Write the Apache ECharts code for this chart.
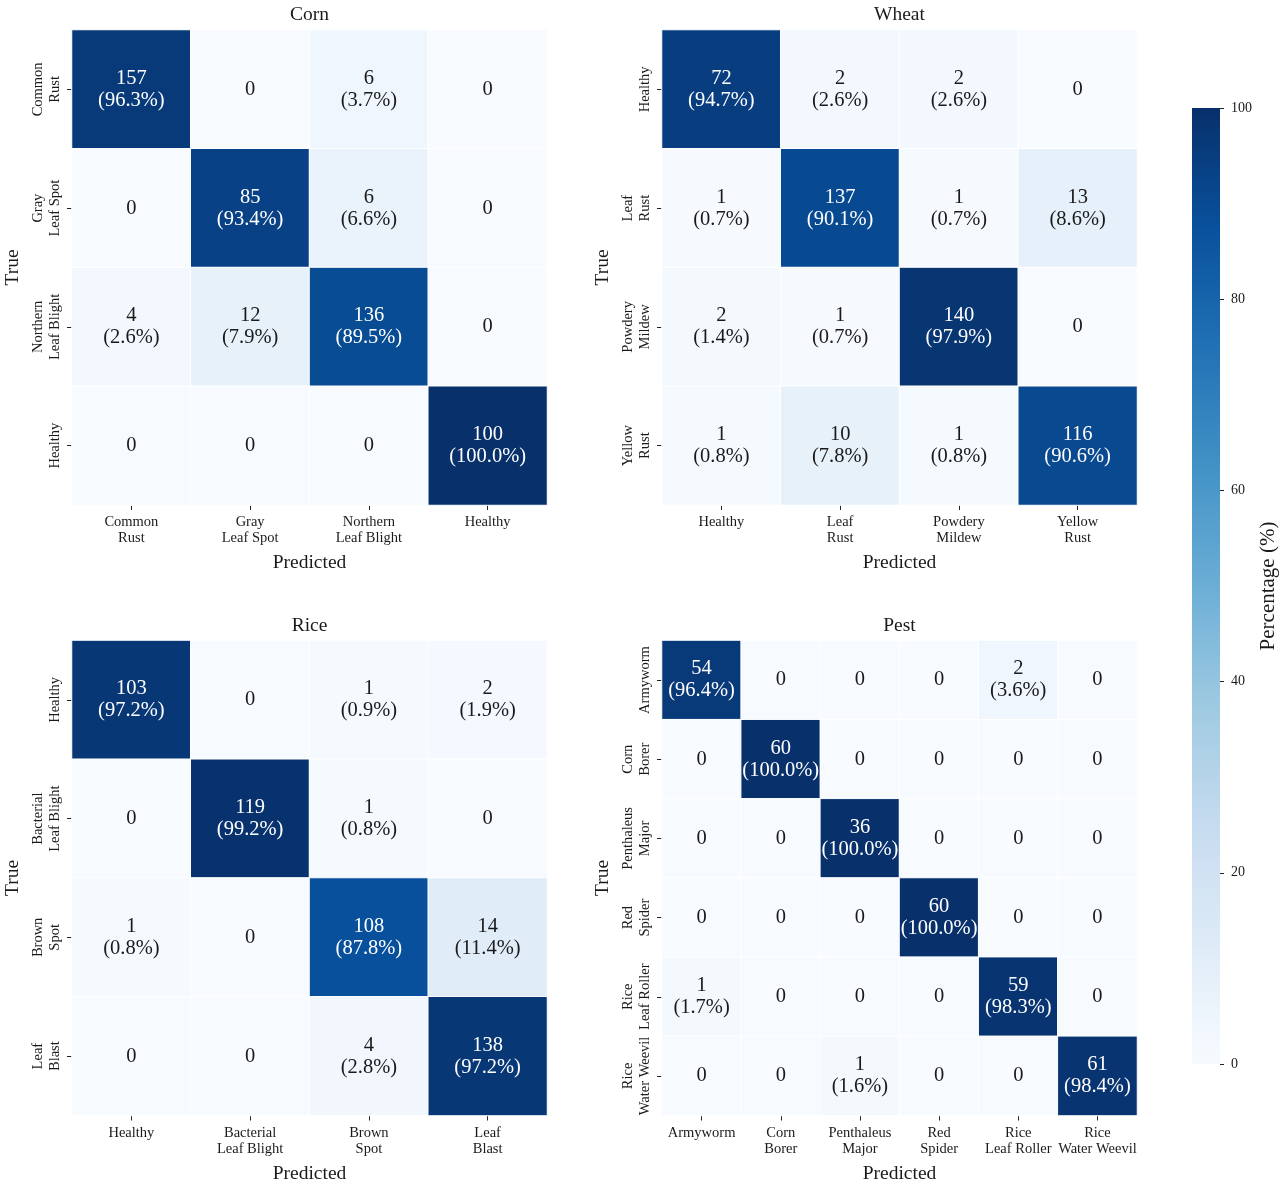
<!DOCTYPE html>
<html><head><meta charset="utf-8">
<script src="https://cdn.jsdelivr.net/npm/echarts@6/dist/echarts.min.js"></script>
<style>html,body{margin:0;padding:0;background:#fff}#c{width:1283px;height:1186px}</style>
</head><body><div id="c"></div>
<script>
// ---- data ----
const cornLabels = ['Common\nRust', 'Gray\nLeaf Spot', 'Northern\nLeaf Blight', 'Healthy'];
const cornCounts = [[157, 0, 6, 0], [0, 85, 6, 0], [4, 12, 136, 0], [0, 0, 0, 100]];
const wheatLabels = ['Healthy', 'Leaf\nRust', 'Powdery\nMildew', 'Yellow\nRust'];
const wheatCounts = [[72, 2, 2, 0], [1, 137, 1, 13], [2, 1, 140, 0], [1, 10, 1, 116]];
const riceLabels = ['Healthy', 'Bacterial\nLeaf Blight', 'Brown\nSpot', 'Leaf\nBlast'];
const riceCounts = [[103, 0, 1, 2], [0, 119, 1, 0], [1, 0, 108, 14], [0, 0, 4, 138]];
const pestLabels = ['Armyworm', 'Corn\nBorer', 'Penthaleus\nMajor', 'Red\nSpider', 'Rice\nLeaf Roller', 'Rice\nWater Weevil'];
const pestCounts = [[54, 0, 0, 0, 2, 0], [0, 60, 0, 0, 0, 0], [0, 0, 36, 0, 0, 0], [0, 0, 0, 60, 0, 0], [1, 0, 0, 0, 59, 0], [0, 0, 1, 0, 0, 61]];
const panelTitles = ['Corn', 'Wheat', 'Rice', 'Pest'];
const colorbarTicks = [0, 20, 40, 60, 80, 100];
const bluesStops = ['#f7fbff', '#deebf7', '#c6dbef', '#9ecae1', '#6baed6', '#4292c6', '#2171b5', '#08519c', '#08306b'];

// ---- layout ----
const FONT = "'Liberation Serif', 'Times New Roman', serif";
const TXT = '#1a1a1a';
const panels = [
  { labels: cornLabels, counts: cornCounts, left: 72, top: 30 },
  { labels: wheatLabels, counts: wheatCounts, left: 662, top: 30 },
  { labels: riceLabels, counts: riceCounts, left: 72, top: 640.5 },
  { labels: pestLabels, counts: pestCounts, left: 662, top: 640.5 }
];
const SIZE = 475;

const grids = [], xAxes = [], yAxes = [], series = [], titles = [];
panels.forEach((p, i) => {
  grids.push({ left: p.left, top: p.top, width: SIZE, height: SIZE });
  titles.push({
    text: panelTitles[i], left: p.left + SIZE / 2, top: p.top - 25, textAlign: 'center', padding: 0,
    textStyle: { fontFamily: FONT, fontSize: 19.5, fontWeight: 'normal', color: TXT }
  });
  xAxes.push({
    gridIndex: i, type: 'category', data: p.labels, position: 'bottom',
    axisLine: { show: false },
    axisTick: { show: true, alignWithLabel: true, length: 5, lineStyle: { color: '#222', width: 1 } },
    axisLabel: { interval: 0, fontFamily: FONT, fontSize: 14.5, lineHeight: 16, margin: 9.5, color: TXT },
    splitLine: { show: false },
    name: 'Predicted', nameLocation: 'middle', nameGap: 48,
    nameTextStyle: { fontFamily: FONT, fontSize: 19.5, color: TXT }
  });
  yAxes.push({
    gridIndex: i, type: 'category', data: p.labels, inverse: true,
    axisLine: { show: false },
    axisTick: { show: true, alignWithLabel: true, length: 5, lineStyle: { color: '#222', width: 1 } },
    axisLabel: { interval: 0, rotate: 90, fontFamily: FONT, fontSize: 14.5, lineHeight: 17, margin: 8, color: TXT },
    splitLine: { show: false },
    name: 'True', nameLocation: 'middle', nameGap: 49, nameRotate: 90,
    nameTextStyle: { fontFamily: FONT, fontSize: 19.5, color: TXT }
  });
  const data = [];
  p.counts.forEach((row, r) => {
    const total = row.reduce((a, b) => a + b, 0);
    row.forEach((c, col) => {
      const pct = total ? c / total * 100 : 0;
      data.push({ value: [col, r, pct, c], label: { color: pct >= 50 ? '#ffffff' : TXT } });
    });
  });
  series.push({
    type: 'heatmap', xAxisIndex: i, yAxisIndex: i, data: data,
    itemStyle: { borderColor: '#ffffff', borderWidth: 1 },
    emphasis: { disabled: true },
    label: {
      show: true, fontFamily: FONT, fontSize: 20.5, lineHeight: 22,
      formatter: (d) => d.value[3] === 0 ? '0' : d.value[3] + '\n(' + d.value[2].toFixed(1) + '%)'
    }
  });
});

// colorbar
grids.push({ left: 1192, top: 108, width: 28, height: 956 });
xAxes.push({ gridIndex: 4, type: 'category', data: [''], show: false });
yAxes.push({
  gridIndex: 4, type: 'value', position: 'right',
  min: colorbarTicks[0], max: colorbarTicks[colorbarTicks.length - 1], interval: colorbarTicks[1] - colorbarTicks[0],
  axisLine: { show: false },
  axisTick: { show: true, length: 4, lineStyle: { color: '#222', width: 1 } },
  axisLabel: { fontFamily: FONT, fontSize: 14, margin: 11, color: TXT },
  splitLine: { show: false },
  name: 'Percentage (%)', nameLocation: 'middle', nameGap: 38, nameRotate: 90,
  nameTextStyle: { fontFamily: FONT, fontSize: 21, color: TXT }
});
series.push({
  type: 'bar', xAxisIndex: 4, yAxisIndex: 4, data: [colorbarTicks[colorbarTicks.length - 1]],
  barWidth: '100%', silent: true,
  itemStyle: {
    color: {
      type: 'linear', x: 0, y: 1, x2: 0, y2: 0,
      colorStops: bluesStops.map((c, k) => ({ offset: k / (bluesStops.length - 1), color: c }))
    }
  }
});

const chart = echarts.init(document.getElementById('c'), null, { renderer: 'canvas' });
chart.setOption({
  backgroundColor: '#ffffff',
  animation: false,
  title: titles,
  grid: grids,
  xAxis: xAxes,
  yAxis: yAxes,
  visualMap: {
    type: 'continuous', show: false, min: 0, max: 100, dimension: 2,
    seriesIndex: [0, 1, 2, 3], inRange: { color: bluesStops }
  },
  series: series
});
</script>
</body></html>
